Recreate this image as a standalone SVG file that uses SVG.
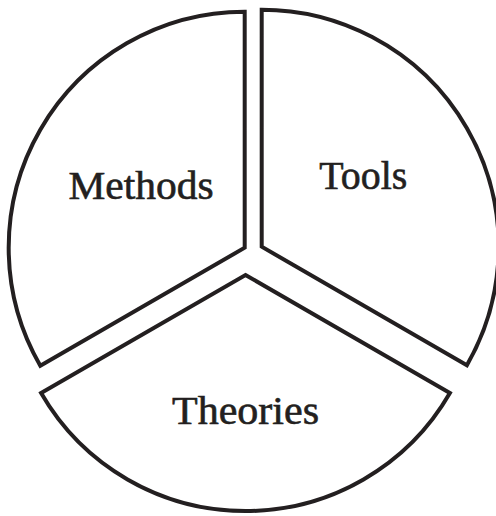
<svg xmlns="http://www.w3.org/2000/svg" width="496" height="516" viewBox="0 0 496 516">
  <style>
    .sector { fill: #ffffff; stroke: #231f20; stroke-width: 4; stroke-linejoin: miter; }
    .label { font-family: "Liberation Serif", "DejaVu Serif", serif; font-size: 40px; fill: #231f20; stroke: #231f20; stroke-width: 0.6; text-anchor: middle; }
  </style>
  <rect x="0" y="0" width="496" height="516" fill="#ffffff"/>
  <g id="methods">
    <path class="sector" d="M 244.7 247.7 L 244.7 11.7 A 236 236 0 0 0 40.3 365.7 Z"/>
    <text class="label" x="141" y="198.5" textLength="145" lengthAdjust="spacingAndGlyphs">Methods</text>
  </g>
  <g id="tools">
    <path class="sector" d="M 261.7 246.7 L 261.7 9.7 A 237 237 0 0 1 466.9 365.2 Z"/>
    <text class="label" x="363.3" y="189" textLength="88" lengthAdjust="spacingAndGlyphs">Tools</text>
  </g>
  <g id="theories">
    <path class="sector" d="M 245.5 275 L 449.9 393 A 236 236 0 0 1 41.1 393 Z"/>
    <text class="label" x="245.5" y="424" textLength="147" lengthAdjust="spacingAndGlyphs">Theories</text>
  </g>
  <g id="connectors"></g>
</svg>
